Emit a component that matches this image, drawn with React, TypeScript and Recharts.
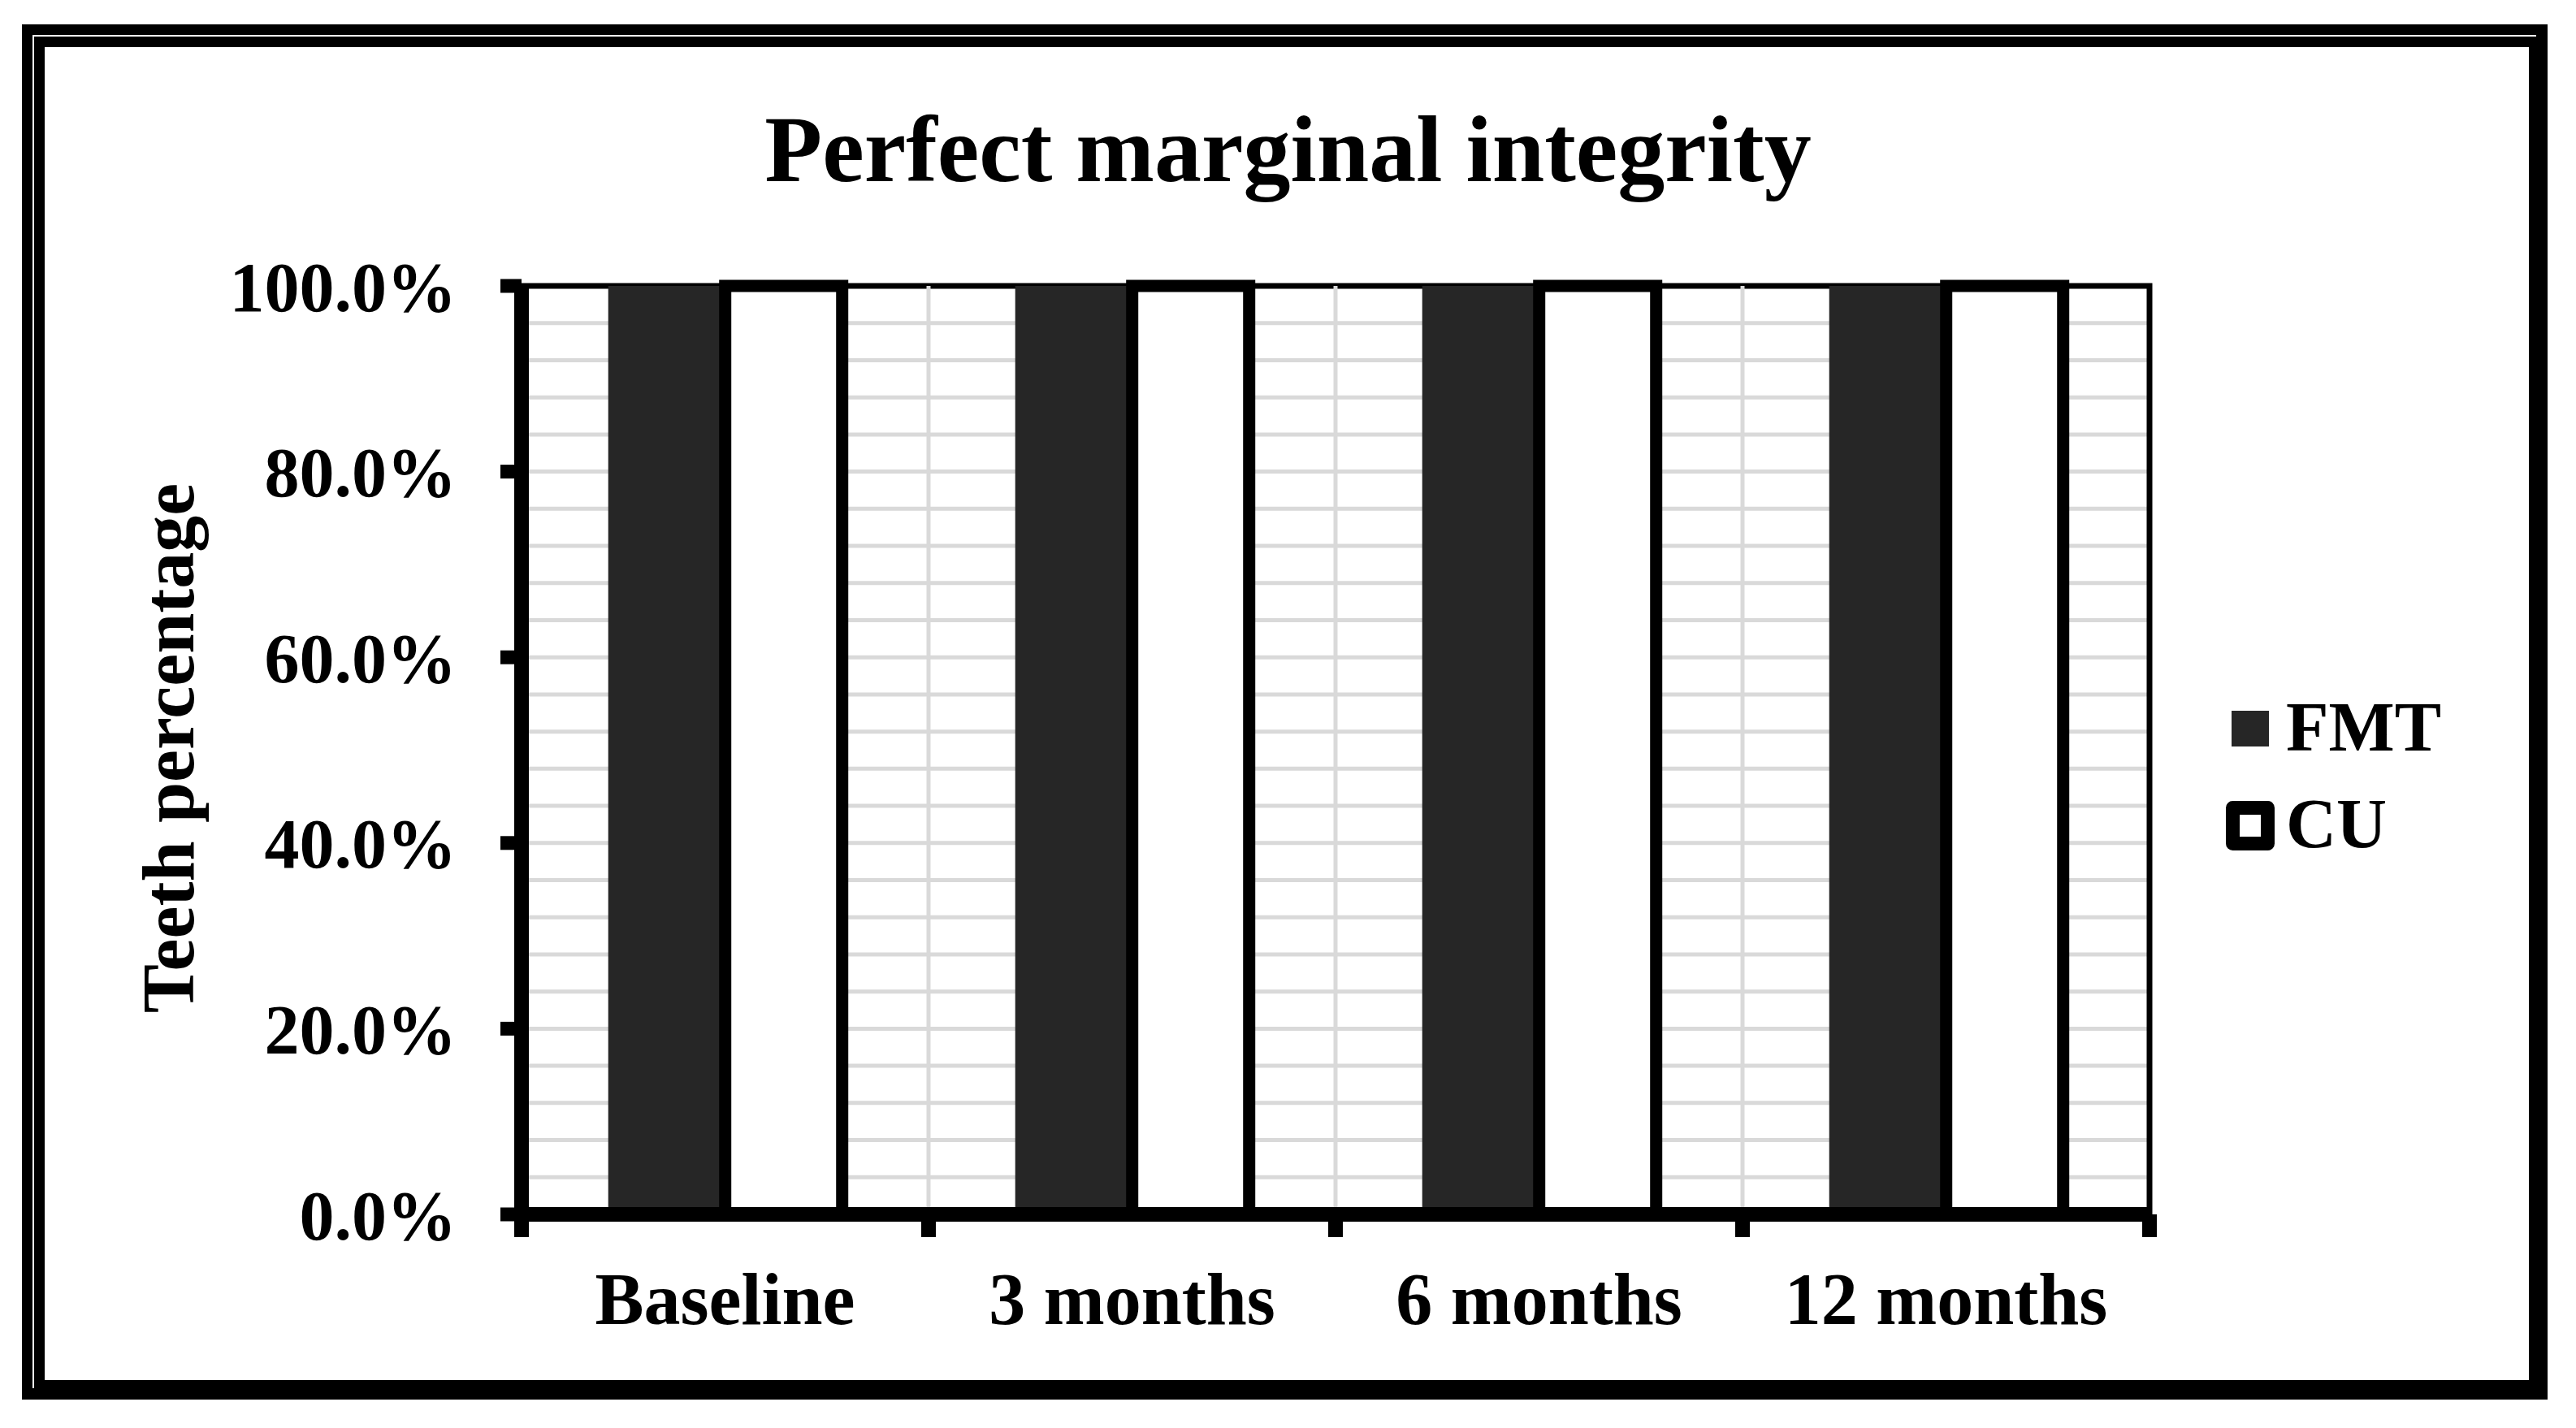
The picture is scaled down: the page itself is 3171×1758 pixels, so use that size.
import { BarChart, Bar, XAxis, YAxis, CartesianGrid, ReferenceArea, ReferenceLine, Legend } from 'recharts';

// chart data
const periods = ['Baseline', '3 months', '6 months', '12 months'];
const fmtValues = [100, 100, 100, 100];
const cuValues = [100, 100, 100, 100];

// axis ticks (percent)
const yTicks = [0, 20, 40, 60, 80, 100];
const minorTicks = [0, 4, 8, 12, 16, 20, 24, 28, 32, 36, 40, 44, 48, 52, 56, 60, 64, 68, 72, 76, 80, 84, 88, 92, 96, 100];

const series = [
  { key: 'FMT', fill: '#262626', stroke: 'none', strokeWidth: 0 },
  { key: 'CU', fill: '#ffffff', stroke: '#000000', strokeWidth: 15 },
];

const data = periods.map((period, i) => ({ period, FMT: fmtValues[i], CU: cuValues[i] }));

const FONT = '"Liberation Serif", "Times New Roman", serif';
const X_TICK_MARGIN = 71;

// category label at the centre, tick marks on the category edges (Excel style)
function CategoryTick(props: any) {
  const { x, y, payload, index, visibleTicksCount, width } = props;
  const half = width / visibleTicksCount / 2;
  const top = y - X_TICK_MARGIN;
  const bottom = top + 28;
  return (
    <g>
      <line x1={x - half} x2={x - half} y1={top} y2={bottom} stroke="#000" strokeWidth={18} />
      {index === visibleTicksCount - 1 && (
        <line x1={x + half} x2={x + half} y1={top} y2={bottom} stroke="#000" strokeWidth={18} />
      )}
      <text
        x={x}
        y={y}
        dy="0.71em"
        textAnchor="middle"
        fill="#000"
        fontSize={90}
        fontWeight={700}
        fontFamily={FONT}
      >
        {payload.value}
      </text>
    </g>
  );
}

function renderLegend() {
  return (
    <svg width={400} height={220} style={{ display: 'block', overflow: 'visible' }}>
      {series.map((s, i) => {
        const dy = i * 119;
        return (
          <g key={s.key}>
            {s.stroke === 'none' ? (
              <rect x={17} y={20 + dy} width={46} height={44} fill={s.fill} />
            ) : (
              <rect
                x={18.5}
                y={20.5 + dy}
                width={43}
                height={44}
                fill={s.fill}
                stroke={s.stroke}
                strokeWidth={17}
                strokeLinejoin="round"
              />
            )}
            <text x={84} y={69 + dy} fontFamily={FONT} fontWeight={700} fontSize={86} fill="#000">
              {s.key}
            </text>
          </g>
        );
      })}
    </svg>
  );
}

export default function App() {
  return (
    <div style={{ position: 'absolute', left: 0, top: 0, width: 3171, height: 1758, background: '#fff', fontFamily: FONT }}>
      {/* frame */}
      <div style={{ position: 'absolute', left: 27, top: 30, width: 3109, height: 1693, background: '#000' }} />
      <div
        style={{
          position: 'absolute',
          left: 40,
          top: 43,
          width: 3082,
          height: 1666,
          borderTop: '2px solid #fff',
          borderLeft: '2px solid #fff',
          boxSizing: 'border-box',
        }}
      />
      <div style={{ position: 'absolute', left: 55, top: 58, width: 3058, height: 1641, background: '#fff' }} />

      <div
        style={{
          position: 'absolute',
          left: 0,
          top: 126,
          width: 3171,
          textAlign: 'center',
          fontSize: 116,
          fontWeight: 700,
          lineHeight: 1,
          color: '#000',
        }}
      >
        Perfect marginal integrity
      </div>

      <div
        style={{
          position: 'absolute',
          left: 208,
          top: 921,
          transform: 'translate(-50%, -50%) rotate(-90deg)',
          whiteSpace: 'nowrap',
          fontSize: 90,
          fontWeight: 700,
          lineHeight: 1,
          color: '#000',
        }}
      >
        Teeth percentage
      </div>

      <div style={{ position: 'absolute', left: 0, top: 0 }}>
        <BarChart
          width={3171}
          height={1758}
          data={data}
          margin={{ top: 352, right: 525, bottom: 113, left: 150 }}
          barCategoryGap="21.3%"
          barGap={0}
        >
          <CartesianGrid vertical={false} stroke="#d9d9d9" strokeWidth={5} horizontalValues={minorTicks} />
          {periods.slice(1).map((p) => (
            <ReferenceLine key={p} x={p} position="start" stroke="#d9d9d9" strokeWidth={5} />
          ))}
          {series.map((s) => (
            <Bar
              key={s.key}
              dataKey={s.key}
              fill={s.fill}
              stroke={s.stroke}
              strokeWidth={s.strokeWidth}
              isAnimationActive={false}
            />
          ))}
          <ReferenceArea
            x1={periods[0]}
            x2={periods[periods.length - 1]}
            y1={0}
            y2={100}
            fill="none"
            stroke="#000"
            strokeWidth={7}
            ifOverflow="visible"
          />
          <XAxis
            dataKey="period"
            height={150}
            axisLine={{ stroke: '#000', strokeWidth: 18 }}
            tickLine={false}
            tickSize={0}
            tickMargin={X_TICK_MARGIN}
            interval={0}
            tick={<CategoryTick />}
          />
          <YAxis
            width={492}
            domain={[0, 100]}
            ticks={yTicks}
            interval={0}
            tickFormatter={(v: number) => `${v.toFixed(1)}%`}
            tickSize={26}
            tickMargin={54}
            tickLine={{ stroke: '#000', strokeWidth: 17 }}
            axisLine={{ stroke: '#000', strokeWidth: 18 }}
            tick={{ fill: '#000', fontSize: 86, fontWeight: 700, fontFamily: FONT }}
          />
          <Legend
            layout="vertical"
            align="center"
            verticalAlign="middle"
            content={renderLegend}
            wrapperStyle={{ left: 2730, top: 855, width: 400 }}
          />
        </BarChart>
      </div>
    </div>
  );
}
